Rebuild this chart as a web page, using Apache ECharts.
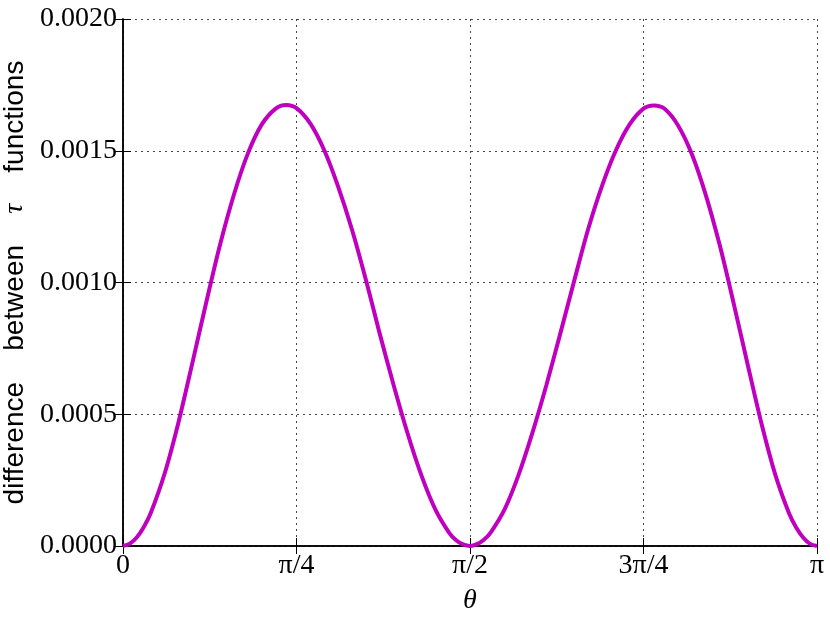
<!DOCTYPE html>
<html>
<head>
<meta charset="utf-8">
<script src="https://cdn.jsdelivr.net/npm/echarts/dist/echarts.min.js"></script>
<style>
  html, body { margin: 0; padding: 0; background: #fff; }
  #tau-diff { width: 830px; height: 623px; }
</style>
</head>
<body>
<div id="tau-diff"></div>
<script>
// theta in units of pi
let thetaOverPi = [
  0, 0.01, 0.02, 0.03, 0.04, 0.06, 0.08, 0.10, 0.12, 0.14, 0.16,
  0.18, 0.20, 0.22, 0.235, 0.25, 0.27, 0.29, 0.31, 0.33, 0.35,
  0.37, 0.39, 0.41, 0.43, 0.45, 0.47, 0.48, 0.49, 0.5,
  0.51, 0.52, 0.53, 0.55, 0.57, 0.59, 0.61, 0.63, 0.65, 0.67, 0.69,
  0.71, 0.73, 0.75, 0.765, 0.78, 0.80, 0.82, 0.84, 0.86, 0.88,
  0.90, 0.92, 0.94, 0.96, 0.97, 0.98, 0.99, 1
];
let tauDiff = [
  0, 0.000009, 0.000033, 0.000072, 0.000125, 0.000275, 0.00047, 0.000695, 0.000925, 0.001145, 0.001335,
  0.00149, 0.0016, 0.00166, 0.001674, 0.001662, 0.001603, 0.001502, 0.001364, 0.0012, 0.00101,
  0.000805, 0.00061, 0.000428, 0.000268, 0.000139, 0.00005, 0.000022, 0.000006, 0,
  0.000007, 0.000024, 0.000052, 0.00014, 0.00027, 0.00043, 0.00061, 0.000805, 0.001005, 0.0012, 0.001365,
  0.0015, 0.0016, 0.00166, 0.001672, 0.00166, 0.001595, 0.001485, 0.00133, 0.00114, 0.00092,
  0.00069, 0.000465, 0.00027, 0.000122, 0.00007, 0.000032, 0.000008, 0
];
let xTickLabels = ['0', 'π/4', 'π/2', '3π/4', 'π'];

let serif = '"Liberation Serif", "DejaVu Serif", serif';
let frame = { show: true, lineStyle: { color: '#000', width: 1.5 } };
let grid = { type: [2, 4], color: '#444', width: 1 };

let chart = echarts.init(document.getElementById('tau-diff'));
chart.setOption({
  animation: false,
  backgroundColor: '#fff',
  grid: { left: 123, right: 13, top: 19, bottom: 77, containLabel: false, outerBoundsMode: 'none' },
  xAxis: [{
    type: 'value',
    min: 0,
    max: 1,
    interval: 0.25,
    position: 'bottom',
    axisLine: frame,
    axisTick: { inside: true, length: 8, lineStyle: { color: '#000', width: 1 } },
    axisLabel: {
      margin: 6,
      fontFamily: serif,
      fontSize: 28,
      color: '#000',
      showMinLabel: true,
      showMaxLabel: true,
      formatter: function (v) {
        return xTickLabels[Math.round(v * 4)];
      }
    },
    splitLine: { show: true, lineStyle: grid },
    name: 'θ',
    nameLocation: 'middle',
    nameGap: 41,
    nameTextStyle: { fontFamily: serif, fontStyle: 'italic', fontSize: 28, color: '#000' }
  }, {
    type: 'value',
    min: 0,
    max: 1,
    interval: 0.25,
    position: 'top',
    axisLine: frame,
    axisTick: { inside: true, length: 8, lineStyle: { color: '#000', width: 1 } },
    axisLabel: { show: false },
    splitLine: { show: false }
  }],
  yAxis: [{
    type: 'value',
    min: 0,
    max: 0.002,
    interval: 0.0005,
    position: 'left',
    axisLine: frame,
    axisTick: { inside: true, length: 8, lineStyle: { color: '#000', width: 1 } },
    axisLabel: {
      margin: 6,
      fontFamily: serif,
      fontSize: 28,
      color: '#000',
      formatter: function (v) {
        return v.toFixed(4);
      }
    },
    splitLine: { show: true, lineStyle: grid },
    name: '{s|difference    between    }{t|τ}{s|    functions}',
    nameLocation: 'middle',
    nameRotate: 90,
    nameGap: 88,
    nameTextStyle: {
      rich: {
        s: { fontFamily: '"Liberation Sans", Arial, sans-serif', fontSize: 28, color: '#000' },
        t: { fontFamily: serif, fontStyle: 'italic', fontSize: 28, color: '#000' }
      }
    }
  }, {
    type: 'value',
    min: 0,
    max: 0.002,
    interval: 0.0005,
    position: 'right',
    axisLine: frame,
    axisTick: { inside: true, length: 8, lineStyle: { color: '#000', width: 1 } },
    axisLabel: { show: false },
    splitLine: { show: false }
  }],
  series: [{
    type: 'line',
    xAxisIndex: 0,
    yAxisIndex: 0,
    showSymbol: false,
    smooth: 0.3,
    lineStyle: { color: '#bf00bf', width: 4 },
    data: thetaOverPi.map(function (t, i) {
      return [t, tauDiff[i]];
    })
  }]
});
</script>
</body>
</html>
